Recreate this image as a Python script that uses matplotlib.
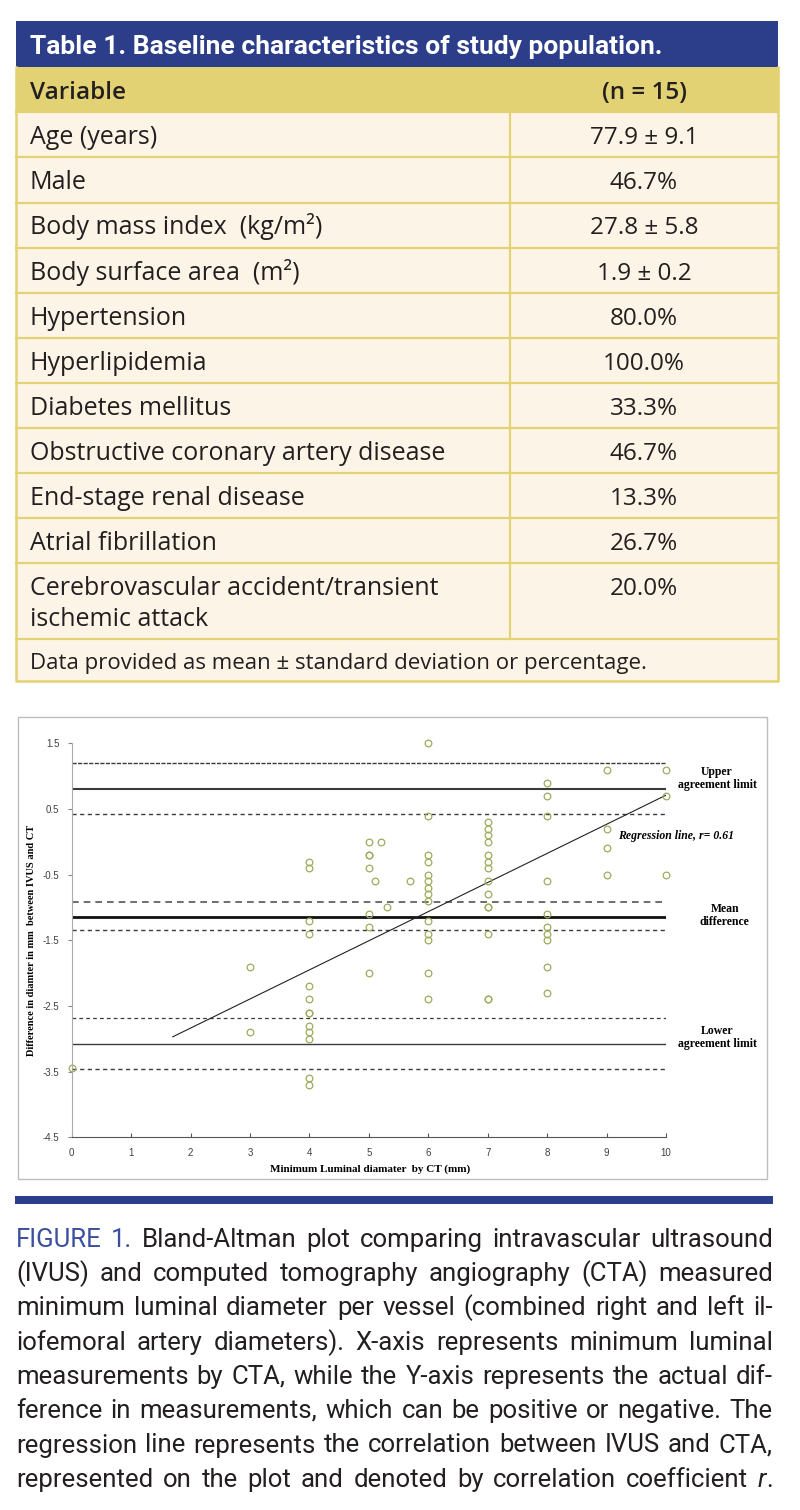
import matplotlib
matplotlib.use("Agg")
import matplotlib.pyplot as plt
from matplotlib import font_manager
from matplotlib.patches import Rectangle

W, H = 800, 1510

# ---- table data ----
table_title = "Table 1. Baseline characteristics of study population."
col_headers = ["Variable", "(n = 15)"]
variables = ["Age (years)", "Male", "Body mass index  (kg/m²)", "Body surface area  (m²)",
             "Hypertension", "Hyperlipidemia", "Diabetes mellitus",
             "Obstructive coronary artery disease", "End-stage renal disease",
             "Atrial fibrillation", "Cerebrovascular accident/transient\nischemic attack"]
values = ["77.9 ± 9.1", "46.7%", "27.8 ± 5.8", "1.9 ± 0.2", "80.0%", "100.0%", "33.3%",
          "46.7%", "13.3%", "26.7%", "20.0%"]
footnote = "Data provided as mean ± standard deviation or percentage."

# ---- Bland-Altman data ----
cta_mm = [0,
          3, 3,
          4, 4, 4, 4, 4, 4, 4, 4, 4, 4, 4, 4, 4,
          5, 5, 5, 5, 5, 5, 5,
          5.1, 5.2, 5.3, 5.7,
          6, 6, 6, 6, 6, 6, 6, 6, 6, 6, 6, 6, 6, 6,
          7, 7, 7, 7, 7, 7, 7, 7, 7, 7, 7, 7, 7, 7,
          8, 8, 8, 8, 8, 8, 8, 8, 8, 8,
          9, 9, 9, 9,
          10, 10, 10]
diff_mm = [-3.45,
           -1.9, -2.9,
           -0.3, -0.4, -1.2, -1.4, -2.2, -2.4, -2.6, -2.6, -2.8, -2.9, -3.0, -3.6, -3.7,
           0.0, -0.2, -0.2, -0.4, -1.1, -1.3, -2.0,
           -0.6, 0.0, -1.0, -0.6,
           1.5, 0.4, -0.2, -0.3, -0.5, -0.6, -0.7, -0.8, -0.9, -1.2, -1.4, -1.5, -2.0, -2.4,
           0.3, 0.2, 0.1, 0.0, -0.2, -0.3, -0.4, -0.6, -0.8, -1.0, -1.0, -1.4, -2.4, -2.4,
           0.9, 0.7, 0.4, -0.6, -1.1, -1.3, -1.4, -1.5, -1.9, -2.3,
           1.1, 0.2, -0.1, -0.5,
           1.1, 0.7, -0.5]
limit_levels = [1.2, 0.8, 0.42, -0.91, -1.14, -1.35, -2.69, -3.08, -3.46]
reg_x = [1.7, 10.0]
reg_y = [-2.97, 0.71]
y_ticks = [1.5, 0.5, -0.5, -1.5, -2.5, -3.5, -4.5]
x_ticks = [0, 1, 2, 3, 4, 5, 6, 7, 8, 9, 10]
limit_labels = ["Upper\nagreement limit", "Mean\ndifference", "Lower\nagreement limit"]
reg_label = "Regression line, r= 0.61"

caption_lines = [
    "FIGURE 1. Bland-Altman plot comparing intravascular ultrasound",
    "(IVUS) and computed tomography angiography (CTA) measured",
    "minimum luminal diameter per vessel (combined right and left il-",
    "iofemoral artery diameters).  X-axis represents minimum luminal",
    "measurements by CTA, while the Y-axis represents the actual dif-",
    "ference in measurements, which can be positive or negative. The",
    "regression line represents the correlation between IVUS and CTA,",
    "represented on the plot and denoted by correlation coefficient r.",
]

BLUE = "#2C3E8A"
GOLD = "#E3D273"
CREAM = "#FCF5E7"
INK = "#231F20"
OLIVE = "#9DAC5C"

installed = {f.name for f in font_manager.fontManager.ttflist}
NARROW = "Liberation Sans Narrow" if "Liberation Sans Narrow" in installed else "Roboto"
BODY = "Open Sans" if "Open Sans" in installed else "DejaVu Sans"
SERIF = "Liberation Serif"

fig = plt.figure(figsize=(W / 100, H / 100), dpi=100)
bg = fig.add_axes([0, 0, 1, 1])
bg.set_xlim(0, W)
bg.set_ylim(H, 0)
bg.axis("off")
renderer = fig.canvas.get_renderer()

# ---- table ----
TL, TR, DIV = 15.7, 777.7, 510
bg.add_patch(Rectangle((TL, 21), TR - TL, 45.7, color=BLUE, lw=0))
bg.add_patch(Rectangle((TL, 66.7), TR - TL, 45.6, color=GOLD, lw=0))
bg.add_patch(Rectangle((TL, 112.3), TR - TL, 568.7, color=CREAM, lw=0))
bg.text(30, 54, table_title, color="white", fontsize=19, fontweight="bold",
        family=NARROW, va="baseline")
bg.text(30, 99, col_headers[0], color=INK, fontsize=17.5, fontweight="semibold",
        family=BODY, va="baseline")
bg.text(644, 99, col_headers[1], color=INK, fontsize=17.5, fontweight="semibold",
        family=BODY, va="baseline", ha="center")

top = 112.3
for var, val in zip(variables, values):
    lines = var.split("\n")
    h = 45.1 if len(lines) == 1 else 75.4
    base = top + 32.0
    for k, ln in enumerate(lines):
        bg.text(30, base + k * 30.7, ln, color=INK, fontsize=18, family=BODY, va="baseline")
    bg.text(644, base, val, color=INK, fontsize=17.5, family=BODY, va="baseline", ha="center")
    bg.plot([TL, TR], [top, top], color=GOLD, lw=1.6)
    top += h
bg.plot([DIV, DIV], [112.3, top], color=GOLD, lw=1.6)
bg.plot([TL, TR], [top, top], color=GOLD, lw=1.6)
bg.text(30, top + 30.6, footnote, color=INK, fontsize=16, family=BODY, va="baseline")
bot = 681
bg.plot([TL, TL, TR, TR], [66.7, bot, bot, 66.7], color=GOLD, lw=1.8)

# ---- chart frame ----
bg.add_patch(Rectangle((18.3, 716.7), 749, 462.5, fc="white", ec="#BDBDBD", lw=1))
bg.add_patch(Rectangle((15, 1196), 758, 8, color=BLUE, lw=0))

ax = fig.add_axes([71.7 / W, (H - 1137.3) / H, 594.3 / W, 394 / H])
ax.set_facecolor("none")
ax.set_xlim(0, 10)
ax.set_ylim(-4.5, 1.5)

styles = [
    dict(color="#3A3A3A", lw=1.0, ls=(0, (3, 1))),
    dict(color="#3A3A3A", lw=1.5, ls="-"),
    dict(color="#3A3A3A", lw=1.0, ls=(0, (3, 2.5))),
    dict(color="#555555", lw=1.2, ls=(0, (4, 3))),
    dict(color="#111111", lw=2.0, ls="-"),
    dict(color="#3A3A3A", lw=1.0, ls=(0, (3, 2.5))),
    dict(color="#3A3A3A", lw=0.9, ls=(0, (3, 2.5))),
    dict(color="#3A3A3A", lw=1.0, ls="-"),
    dict(color="#3A3A3A", lw=1.0, ls=(0, (3, 2.5))),
]
for lev, st in zip(limit_levels, styles):
    ax.plot([0, 10], [lev, lev], **st)

ax.plot(reg_x, reg_y, color="#222222", lw=0.8)
ax.plot(cta_mm, diff_mm, "o", mfc="none", mec=OLIVE, ms=4.8, mew=0.9, clip_on=False)

for sp in ["top", "right"]:
    ax.spines[sp].set_visible(False)
ax.spines["left"].set_color("#AAAAAA")
ax.spines["bottom"].set_color("#555555")
ax.set_yticks(y_ticks)
ax.set_yticklabels([f"{t:g}" for t in y_ticks])
ax.set_xticks(x_ticks)
ax.tick_params(axis="y", direction="out", length=3, color="#888888", labelsize=7,
               labelcolor="#404040", pad=6)
ax.tick_params(axis="x", direction="in", length=3, color="#555555", labelsize=7,
               labelcolor="#404040", pad=8)
for lab in ax.get_xticklabels() + ax.get_yticklabels():
    lab.set_family("Liberation Sans")

ax.set_ylabel("Difference in diamter in mm  between IVUS and CT", family=SERIF,
              fontweight="bold", fontsize=7.5)
ax.yaxis.set_label_coords(-0.06, 0.5)
ax.set_xlabel("Minimum Luminal diamater  by CT (mm)", family=SERIF, fontweight="bold", fontsize=8)
ax.xaxis.set_label_coords(0.502, -0.07)

label_pos = [(10.86, 0.96), (10.99, -1.12), (10.86, -2.98)]
for txt, (lx, ly) in zip(limit_labels, label_pos):
    ax.text(lx, ly, txt, ha="center", va="center", family=SERIF, fontweight="bold",
            fontsize=8.5, linespacing=1.1, clip_on=False)
ax.text(9.19, 0.09, reg_label, ha="left", va="center", family=SERIF, fontweight="bold",
        fontstyle="italic", fontsize=8.5, clip_on=False)

# ---- caption, fully justified ----
CAP = dict(family=NARROW, fontsize=18.5, color=INK, va="baseline", ha="left")


def justify(words, y, x0, x1):
    pieces, widths = [], []
    for w in words:
        segs, tot = [], 0
        for txt, kw in w:
            t = bg.text(0, y, txt, **{**CAP, **kw})
            wd = t.get_window_extent(renderer).width
            segs.append((t, wd))
            tot += wd
        pieces.append(segs)
        widths.append(tot)
    gap = (x1 - x0 - sum(widths)) / (len(words) - 1)
    x = x0
    for segs, tot in zip(pieces, widths):
        xx = x
        for t, wd in segs:
            t.set_x(xx)
            xx += wd
        x += tot + gap


for i, line in enumerate(caption_lines):
    words = []
    for j, w in enumerate(line.split()):
        if i == 0 and j < 2:
            words.append([(w, dict(color="#3B4FA0"))])
        elif w == "r.":
            words.append([("r", dict(fontstyle="italic")), (".", {})])
        else:
            words.append([(w, {})])
    justify(words, 1246.7 + i * 34.3, 16, 773)

fig.savefig("out.png", dpi=100)
